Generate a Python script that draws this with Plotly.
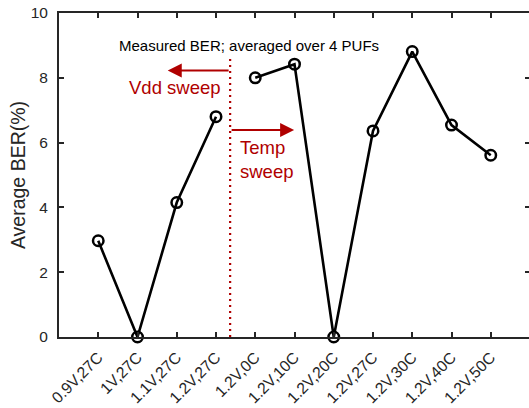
import plotly.graph_objects as go

# Operating corners on the x axis (supply voltage, temperature)
corner_labels = ["0.9V,27C", "1V,27C", "1.1V,27C", "1.2V,27C",
                 "1.2V,0C", "1.2V,10C", "1.2V,20C", "1.2V,27C",
                 "1.2V,30C", "1.2V,40C", "1.2V,50C"]

# Average bit error rate (%) for the supply-voltage sweep (first four corners)
vdd_ber = [2.97, 0.0, 4.15, 6.80]
# Average bit error rate (%) for the temperature sweep (remaining corners)
temp_ber = [8.0, 8.42, 0.0, 6.36, 8.81, 6.54, 5.61]

y_ticks = [0, 2, 4, 6, 8, 10]

# Separator between the two sweeps and annotation anchors (data units)
split_x = 3.36
split_top = 8.6

AX = "#262626"
RED = "#b00000"
FONT = "Liberation Sans, Arial, Helvetica, sans-serif"

vdd_x = list(range(len(vdd_ber)))
temp_x = list(range(len(vdd_ber), len(vdd_ber) + len(temp_ber)))

fig = go.Figure()

fig.add_trace(go.Scatter(
    x=[split_x, split_x], y=[0, split_top], mode="lines",
    line=dict(color=RED, width=2.2, dash="2px,4px"),
    hoverinfo="skip", showlegend=False))

for xs, ys in ((vdd_x, vdd_ber), (temp_x, temp_ber)):
    fig.add_trace(go.Scatter(
        x=xs, y=ys, mode="lines+markers",
        line=dict(color="black", width=2.6),
        marker=dict(symbol="circle-open", size=10.5, color="black",
                    line=dict(width=2.5, color="black")),
        cliponaxis=False, showlegend=False))

fig.add_annotation(
    x=3.84, y=9.0, xref="x", yref="y", text="Measured BER; averaged over 4 PUFs",
    showarrow=False, font=dict(family=FONT, size=15, color="black"))

# Left arrow: voltage sweep
fig.add_annotation(
    x=1.77, y=8.225, ax=split_x, ay=8.225, xref="x", yref="y",
    axref="x", ayref="y", text="", showarrow=True,
    arrowhead=2, arrowsize=1.4, arrowwidth=2, arrowcolor=RED, standoff=0)
fig.add_annotation(
    x=1.95, y=7.69, xref="x", yref="y", text="Vdd sweep",
    showarrow=False, font=dict(family=FONT, size=18.5, color=RED))

# Right arrow: temperature sweep
fig.add_annotation(
    x=4.99, y=6.39, ax=split_x, ay=6.39, xref="x", yref="y",
    axref="x", ayref="y", text="", showarrow=True,
    arrowhead=2, arrowsize=1.4, arrowwidth=2, arrowcolor=RED, standoff=0)
fig.add_annotation(
    x=3.57, y=5.47, xref="x", yref="y", text="Temp<br>sweep",
    showarrow=False, xanchor="left", align="left",
    font=dict(family=FONT, size=18.5, color=RED))

fig.update_layout(
    width=534, height=408,
    margin=dict(l=59, r=2, t=13, b=71),
    paper_bgcolor="white", plot_bgcolor="white",
    font=dict(family=FONT, color=AX),
    xaxis=dict(
        range=[-1, len(corner_labels)], automargin=False,
        tickmode="array", tickvals=list(range(len(corner_labels))),
        ticktext=corner_labels, tickangle=-45,
        tickfont=dict(size=15.8, color=AX),
        ticks="inside", ticklen=5, tickwidth=2, tickcolor=AX,
        showline=True, linewidth=2, linecolor=AX, mirror="ticks",
        showgrid=False, zeroline=False, ticklabelstandoff=3),
    yaxis=dict(
        range=[0, 10], tickmode="array", tickvals=y_ticks,
        tickfont=dict(size=15.5, color=AX),
        ticks="inside", ticklen=5, tickwidth=2, tickcolor=AX,
        showline=True, linewidth=2, linecolor=AX, mirror="ticks",
        showgrid=False, zeroline=False, ticklabelstandoff=6,
        title=dict(text="Average BER(%)", font=dict(size=19.5, color=AX),
                   standoff=0)),
)

fig.write_html(
    "out.html",
    post_script="document.documentElement.style.overflow='hidden';"
                "document.body.style.overflow='hidden';")
